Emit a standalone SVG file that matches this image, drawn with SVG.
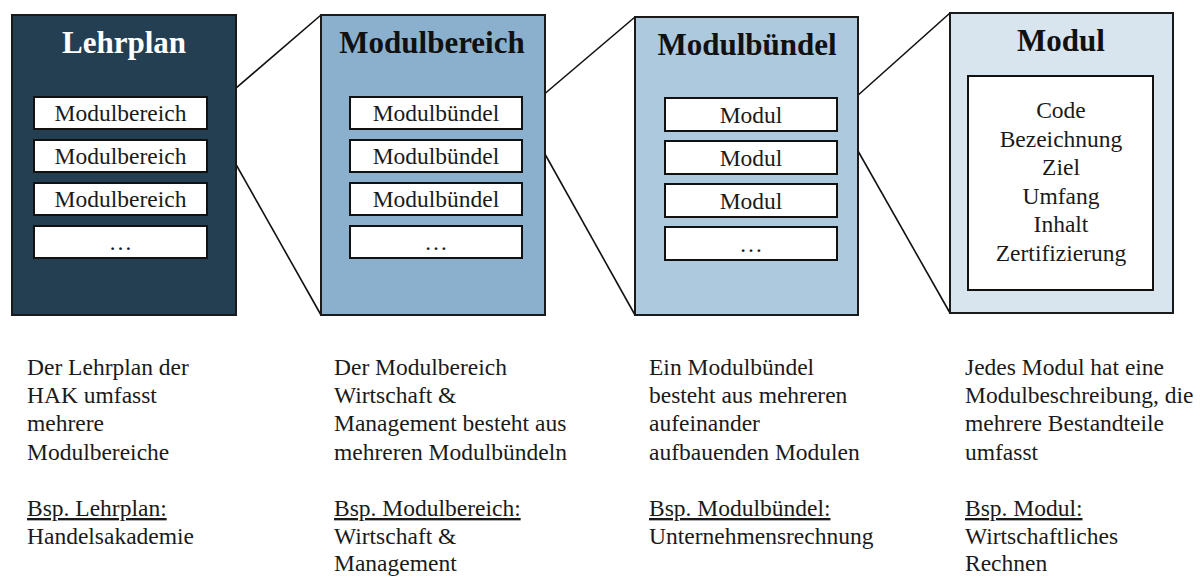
<svg xmlns="http://www.w3.org/2000/svg" width="1200" height="576" viewBox="0 0 1200 576">
  <style>
    .panel { stroke: #1a1a1a; stroke-width: 2; }
    .item { fill: #ffffff; stroke: #111111; stroke-width: 2; }
    text { font-family: 'Liberation Serif', 'Times New Roman', Times, serif; }
    .title { font-size: 31px; font-weight: 700; text-anchor: middle; fill: #111111; }
    .label { font-size: 23.5px; font-weight: 400; text-anchor: middle; fill: #1a1a1a; }
    .body text { font-size: 23.5px; font-weight: 400; fill: #1a1a1a; }
    .ul { text-decoration: underline; }
    .link { stroke: #111111; stroke-width: 1.6; fill: none; }
  </style>

  <!-- zoom-out connectors between levels -->
  <g id="connectors">
    <line class="link" x1="207" y1="113" x2="321" y2="15"/>
    <line class="link" x1="207" y1="113" x2="321" y2="315"/>
    <line class="link" x1="522" y1="113" x2="635" y2="17"/>
    <line class="link" x1="522" y1="113" x2="635" y2="315"/>
    <line class="link" x1="837" y1="114" x2="950" y2="13"/>
    <line class="link" x1="837" y1="114" x2="950" y2="313"/>
  </g>

  <!-- Level 1: Lehrplan -->
  <g id="lehrplan">
    <rect class="panel" x="12" y="15" width="224" height="300" fill="#243e52"/>
    <text class="title" x="124" y="53" style="fill:#ffffff">Lehrplan</text>
    <rect class="item" x="34" y="97" width="173" height="32"/>
    <text class="label" x="120.5" y="121">Modulbereich</text>
    <rect class="item" x="34" y="140" width="173" height="32"/>
    <text class="label" x="120.5" y="164">Modulbereich</text>
    <rect class="item" x="34" y="183" width="173" height="32"/>
    <text class="label" x="120.5" y="207">Modulbereich</text>
    <rect class="item" x="34" y="226" width="173" height="32"/>
    <text class="label" x="120.5" y="250">…</text>
  </g>

  <!-- Level 2: Modulbereich -->
  <g id="modulbereich">
    <rect class="panel" x="321" y="15" width="224" height="300" fill="#8bb0cd"/>
    <text class="title" x="432" y="53">Modulbereich</text>
    <rect class="item" x="350" y="97" width="172" height="32"/>
    <text class="label" x="436" y="121">Modulbündel</text>
    <rect class="item" x="350" y="140" width="172" height="32"/>
    <text class="label" x="436" y="164">Modulbündel</text>
    <rect class="item" x="350" y="183" width="172" height="32"/>
    <text class="label" x="436" y="207">Modulbündel</text>
    <rect class="item" x="350" y="226" width="172" height="32"/>
    <text class="label" x="436" y="250">…</text>
  </g>

  <!-- Level 3: Modulbündel -->
  <g id="modulbuendel">
    <rect class="panel" x="635" y="17" width="223" height="298" fill="#adc9dd"/>
    <text class="title" x="747" y="55">Modulbündel</text>
    <rect class="item" x="665" y="98" width="172" height="33"/>
    <text class="label" x="751" y="123">Modul</text>
    <rect class="item" x="665" y="141" width="172" height="33"/>
    <text class="label" x="751" y="166">Modul</text>
    <rect class="item" x="665" y="184" width="172" height="33"/>
    <text class="label" x="751" y="209">Modul</text>
    <rect class="item" x="665" y="227" width="172" height="33"/>
    <text class="label" x="751" y="252">…</text>
  </g>

  <!-- Level 4: Modul -->
  <g id="modul">
    <rect class="panel" x="950" y="13" width="223" height="300" fill="#d8e4ee"/>
    <text class="title" x="1061" y="51">Modul</text>
    <rect class="item" x="968" y="76" width="185" height="214"/>
    <text class="label" x="1061" y="118">Code</text>
    <text class="label" x="1061" y="146.5">Bezeichnung</text>
    <text class="label" x="1061" y="175">Ziel</text>
    <text class="label" x="1061" y="203.5">Umfang</text>
    <text class="label" x="1061" y="232">Inhalt</text>
    <text class="label" x="1061" y="260.5">Zertifizierung</text>
  </g>

  <!-- Descriptions -->
  <g id="desc-lehrplan" class="body">
    <text x="27" y="374.5">Der Lehrplan der</text>
    <text x="27" y="403">HAK umfasst</text>
    <text x="27" y="431">mehrere</text>
    <text x="27" y="459.5">Modulbereiche</text>
    <text x="27" y="516" class="ul">Bsp. Lehrplan:</text>
    <text x="27" y="544">Handelsakademie</text>
  </g>
  <g id="desc-modulbereich" class="body">
    <text x="334" y="374.5">Der Modulbereich</text>
    <text x="334" y="403">Wirtschaft &amp;</text>
    <text x="334" y="431">Management besteht aus</text>
    <text x="334" y="459.5">mehreren Modulbündeln</text>
    <text x="334" y="516" class="ul">Bsp. Modulbereich:</text>
    <text x="334" y="544">Wirtschaft &amp;</text>
    <text x="334" y="571">Management</text>
  </g>
  <g id="desc-modulbuendel" class="body">
    <text x="649" y="374.5">Ein Modulbündel</text>
    <text x="649" y="403">besteht aus mehreren</text>
    <text x="649" y="431">aufeinander</text>
    <text x="649" y="459.5">aufbauenden Modulen</text>
    <text x="649" y="516" class="ul">Bsp. Modulbündel:</text>
    <text x="649" y="544">Unternehmensrechnung</text>
  </g>
  <g id="desc-modul" class="body">
    <text x="965" y="374.5">Jedes Modul hat eine</text>
    <text x="965" y="403">Modulbeschreibung, die</text>
    <text x="965" y="431">mehrere Bestandteile</text>
    <text x="965" y="459.5">umfasst</text>
    <text x="965" y="516" class="ul">Bsp. Modul:</text>
    <text x="965" y="544">Wirtschaftliches</text>
    <text x="965" y="571">Rechnen</text>
  </g>
</svg>
